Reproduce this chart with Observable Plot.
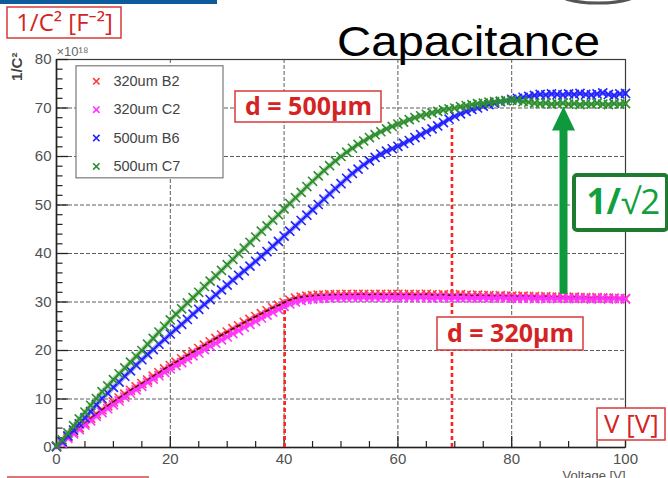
<!DOCTYPE html>
<html><head><meta charset="utf-8">
<script src="https://cdn.jsdelivr.net/npm/d3@7"></script>
<script src="https://cdn.jsdelivr.net/npm/@observablehq/plot@0.6"></script>
<style>body{margin:0;background:#fff;overflow:hidden}svg{display:block}</style>
</head><body><div id="chart"></div>
<script>
// ---- data ----
const voltage = [0,1,2,3,4,5,6,7,8,9,10,11,12,13,14,15,16,17,18,19,20,21,22,23,24,25,26,27,28,29,30,31,32,33,34,35,36,37,38,39,40,41,42,43,44,45,46,47,48,49,50,51,52,53,54,55,56,57,58,59,60,61,62,63,64,65,66,67,68,69,70,71,72,73,74,75,76,77,78,79,80,81,82,83,84,85,86,87,88,89,90,91,92,93,94,95,96,97,98,99,100];
const b2_320um = [0.3,1.2,2.2,3.1,4.1,5.0,6.0,6.9,7.8,8.6,9.4,10.2,11.0,11.8,12.5,13.2,13.9,14.7,15.4,16.2,16.9,17.6,18.3,19.0,19.7,20.4,21.1,21.8,22.5,23.2,23.8,24.5,25.1,25.8,26.4,27.0,27.6,28.2,28.8,29.3,29.9,30.4,30.8,31.0,31.2,31.3,31.4,31.4,31.5,31.5,31.5,31.6,31.5,31.6,31.6,31.5,31.6,31.6,31.5,31.6,31.6,31.5,31.6,31.5,31.5,31.6,31.5,31.4,31.5,31.4,31.4,31.5,31.4,31.3,31.4,31.3,31.3,31.2,31.3,31.2,31.2,31.1,31.2,31.1,31.1,31.0,31.1,31.0,31.0,31.0,30.9,31.0,30.9,30.9,30.8,30.9,30.8,30.8,30.8,30.7,30.7];
const c2_320um = [0.1,0.9,1.9,2.8,3.7,4.6,5.5,6.4,7.2,8.0,8.8,9.6,10.4,11.2,11.9,12.6,13.4,14.1,14.8,15.5,16.2,16.9,17.5,18.2,18.9,19.5,20.2,20.9,21.5,22.2,22.8,23.5,24.1,24.8,25.4,26.0,26.7,27.3,27.9,28.5,29.1,29.6,30.0,30.3,30.5,30.6,30.7,30.8,30.8,30.9,30.9,30.9,31.0,30.9,31.0,30.9,31.0,30.9,31.0,30.9,30.9,31.0,30.9,30.9,31.0,30.9,30.8,30.9,30.9,30.8,30.9,30.8,30.9,30.8,30.8,30.9,30.8,30.8,30.9,30.8,30.8,30.7,30.8,30.8,30.7,30.8,30.7,30.8,30.7,30.8,30.7,30.7,30.8,30.7,30.6,30.7,30.8,30.6,30.7,30.7,30.6];
const b6_500um = [0.2,1.2,2.4,3.6,4.9,6.1,7.4,8.8,10.1,11.2,12.4,13.5,14.7,15.8,17.0,18.1,19.2,20.2,21.3,22.3,23.4,24.4,25.4,26.4,27.5,28.5,29.5,30.5,31.5,32.5,33.5,34.5,35.5,36.4,37.4,38.4,39.4,40.4,41.5,42.5,43.6,44.6,45.7,46.8,47.9,49.0,50.1,51.2,52.3,53.4,54.4,55.5,56.5,57.4,58.3,59.1,59.8,60.5,61.1,61.6,62.1,62.7,63.3,63.9,64.5,65.1,65.7,66.3,67.0,67.7,68.3,68.8,69.3,69.7,70.0,70.4,70.7,71.0,71.3,71.5,71.8,72.0,72.2,72.4,72.6,72.8,72.7,72.9,72.8,72.7,72.9,72.8,73.0,72.8,72.7,72.9,73.1,72.8,72.6,72.9,73.0];
const c7_500um = [0.3,1.6,3.0,4.5,5.9,7.3,8.7,10.1,11.5,12.7,14.0,15.2,16.4,17.6,18.8,20.0,21.3,22.5,23.8,25.0,26.3,27.5,28.6,29.8,30.9,32.0,33.2,34.3,35.4,36.5,37.7,38.8,40.0,41.1,42.3,43.4,44.6,45.7,46.9,48.0,49.2,50.3,51.5,52.6,53.8,54.9,56.0,57.1,58.1,59.1,60.0,60.9,61.7,62.5,63.2,63.9,64.5,65.1,65.7,66.2,66.7,67.1,67.6,68.0,68.4,68.7,69.0,69.3,69.6,69.8,70.0,70.3,70.5,70.7,70.9,71.0,71.2,71.3,71.4,71.5,71.6,71.5,71.3,71.2,71.0,70.9,71.0,70.8,70.9,71.0,70.8,70.9,70.7,70.9,70.8,71.0,70.8,70.7,70.9,70.8,70.9];

const seriesNames = ["320um B2", "320um C2", "500um B6", "500um C7"];
const seriesValues = [b2_320um, c2_320um, b6_500um, c7_500um];
const seriesColors = ["#ff3c3c", "#ff33ff", "#2222ff", "#2e8e2e"];

const xTicks = [0, 20, 40, 60, 80, 100];
const yTicks = [0, 10, 20, 30, 40, 50, 60, 70, 80];
const xGrid = [20, 40, 60, 80];
const yGrid = [10, 20, 30, 40, 50, 60, 70];
const xMinor = [5,10,15,25,30,35,45,50,55,65,70,75,85,90,95];
const yMinor = [2,4,6,8,12,14,16,18,22,24,26,28,32,34,36,38,42,44,46,48,52,54,56,58,62,64,66,68,72,74,76,78];

// depletion voltages marked with red dashed lines
const depletion = [{V: 40.1, top: 30.0}, {V: 69.5, top: 66.5}];

// ---- layout helpers (pixels per data unit) ----
const W = 668, H = 478, ML = 56, MR = 43, MT = 59, MB = 31;
const KX = (W - ML - MR) / 100, KY = (H - MT - MB) / 80;

const rows = seriesValues.flatMap((vals, s) => vals.map((v, i) => ({V: voltage[i], C: v, series: seriesNames[s]})));
const of = (name) => rows.filter(d => d.series === name);

const redText = "#d42323";
const notes = [
  {text: "1/C² [F⁻²]", x: (64 - ML) / KX, y: (H - MB - 22.5) / KY, w: 114, h: 31, size: 24, weight: "normal"},
  {text: "d = 500μm", x: (308 - ML) / KX, y: (H - MB - 106.5) / KY, w: 146, h: 31, size: 25, weight: "bold"},
  {text: "d = 320μm", x: (510 - ML) / KX, y: (H - MB - 333.5) / KY, w: 146, h: 33, size: 25, weight: "bold"},
  {text: "V [V]", x: (631 - ML) / KX, y: (H - MB - 424) / KY, w: 68, h: 32, size: 26, weight: "normal"}
];
const green = {x: (620.5 - ML) / KX, y: (H - MB - 202.5) / KY, w: 93, h: 55};
const arrow = {V: (563 - ML) / KX, from: 31.6, to: (H - MB - 118.5) / KY};
const triShape = {draw(ctx, size) { const r = Math.sqrt(size / Math.PI); ctx.moveTo(0, -r); ctx.lineTo(0.92 * r, 0.92 * r); ctx.lineTo(-0.92 * r, 0.92 * r); ctx.closePath(); }};

const legendY = (i) => 75.5 - i * 5.85;
const gridStyle = {stroke: "#4a4a4a", strokeWidth: 1, strokeDasharray: "4,2", strokeOpacity: 0.9};

const seriesMarks = seriesNames.flatMap((name, s) => {
  const m = [
    Plot.line(of(name), {x: "V", y: "C", stroke: seriesColors[s], strokeWidth: 5, strokeOpacity: 0.35}),
    Plot.line(of(name), {x: "V", y: "C", stroke: seriesColors[s], strokeWidth: 2.2, strokeOpacity: 0.8}),
    Plot.dot(of(name), {x: "V", y: "C", symbol: "times", r: 4.2, stroke: seriesColors[s], strokeWidth: 1.6})
  ];
  if (s === 0) m.push(Plot.line(of(name), {x: "V", y: "C", stroke: "#4a0c0c", strokeWidth: 1.6, curve: "monotone-x"}));
  return m;
});

const plot = Plot.plot({
  width: W, height: H,
  marginLeft: ML, marginRight: MR, marginTop: MT, marginBottom: MB,
  x: {domain: [0, 100]},
  y: {domain: [0, 80]},
  style: {fontFamily: "'Liberation Sans', Arial, sans-serif", background: "white"},
  marks: [
    Plot.gridY(yGrid, gridStyle),
    Plot.gridX(xGrid, gridStyle),
    Plot.frame({stroke: "#3a3a3a", strokeWidth: 1.2}),
    Plot.ruleX([0], {stroke: "#222", strokeWidth: 1.6}),
    Plot.ruleY([0], {stroke: "#222", strokeWidth: 1.6}),
    // inward tick marks
    Plot.ruleY(yTicks, {y: d => d, x1: () => 0, x2: () => 12 / KX, stroke: "#222", strokeWidth: 1.3}),
    Plot.ruleY(yMinor, {y: d => d, x1: () => 0, x2: () => 6.5 / KX, stroke: "#222", strokeWidth: 1.2}),
    Plot.ruleX(xTicks, {x: d => d, y1: () => 0, y2: () => 11 / KY, stroke: "#222", strokeWidth: 1.3}),
    Plot.ruleX(xMinor, {x: d => d, y1: () => 0, y2: () => 6 / KY, stroke: "#222", strokeWidth: 1.2}),
    Plot.axisY(yTicks, {tickSize: 0, tickPadding: 5, fill: "#505050", fontSize: 15, label: null}),
    Plot.axisX(xTicks, {tickSize: 0, tickPadding: 6, fill: "#505050", fontSize: 15, label: null}),
    // depletion markers
    Plot.ruleX(depletion, {x: "V", y1: () => 0, y2: "top", stroke: "#ff2424", strokeWidth: 2.6, strokeDasharray: "4,3"}),
    // data
    ...seriesMarks,
    // legend
    Plot.rect([0], {x1: () => 20 / KX, x2: () => 167 / KX, y1: () => 55.5, y2: () => 78.6, fill: "white", stroke: "#7a7a7a", strokeWidth: 1.2}),
    Plot.dot(seriesNames, {x: () => 7.0, y: (d, i) => legendY(i), symbol: "times", r: 3, stroke: (d, i) => seriesColors[i], strokeWidth: 1.6}),
    Plot.text(seriesNames, {x: () => 10.0, y: (d, i) => legendY(i), text: d => d, textAnchor: "start", fill: "#444", fontSize: 14.5}),
    // axis texts
    Plot.text(["×10¹⁸"], {x: () => 0, y: () => 80, dy: -4, text: d => d, textAnchor: "start", lineAnchor: "bottom", fill: "#666", fontSize: 13}),
    Plot.text(["1/C²"], {x: () => -39 / KX, y: () => 78.5, text: d => d, rotate: -90, fill: "#444", fontSize: 15, fontWeight: "bold"}),
    Plot.text(["Voltage [V]"], {x: () => 100, y: () => -32 / KY, text: d => d, textAnchor: "end", lineAnchor: "bottom", fill: "#555", fontSize: 13}),
    // title
    Plot.text(["Capacitance"], {x: () => (468 - ML) / KX, y: () => (H - MB - 55) / KY, text: d => d, lineAnchor: "bottom", fontSize: 43, fill: "#000", className: "captitle"}),
    // red annotation boxes
    ...notes.flatMap(n => [
      Plot.rect([n], {x1: d => d.x - d.w / 2 / KX, x2: d => d.x + d.w / 2 / KX, y1: d => d.y - d.h / 2 / KY, y2: d => d.y + d.h / 2 / KY, fill: "white", stroke: "#d63a3a", strokeWidth: 1.5}),
      Plot.text([n], {x: "x", y: "y", text: "text", fill: redText, fontSize: n.size, fontWeight: n.weight, fontFamily: "'Open Sans', 'Noto Sans', sans-serif", lineAnchor: "middle"})
    ]),
    // green arrow
    Plot.ruleX([arrow], {x: "V", y1: "from", y2: "to", stroke: "#0e9a3c", strokeWidth: 8}),
    Plot.dot([arrow], {x: "V", y: "to", symbol: triShape, r: 12.5, fill: "#0e9a3c", stroke: "none"}),
    // 1/sqrt2 box
    Plot.rect([green], {x1: d => d.x - d.w / 2 / KX, x2: d => d.x + d.w / 2 / KX, y1: d => d.y - d.h / 2 / KY, y2: d => d.y + d.h / 2 / KY, fill: "white", stroke: "#1f7b30", strokeWidth: 4, rx: 3}),
    Plot.text([green], {x: "x", y: "y", text: () => "1/", textAnchor: "end", fill: "#10a040", fontSize: 35, fontWeight: "bold", fontFamily: "'Open Sans', sans-serif", lineAnchor: "middle"}),
    Plot.text([green], {x: "x", y: "y", text: () => "√2", textAnchor: "start", fill: "#10a040", fontSize: 35, fontFamily: "'Open Sans', 'DejaVu Sans', sans-serif", lineAnchor: "middle"})
  ]
});

document.getElementById("chart").appendChild(plot);

// slide decorations / title stretching
const svg = d3.select(plot);
svg.selectAll("g.captitle text").attr("textLength", 263).attr("lengthAdjust", "spacingAndGlyphs");
svg.append("rect").attr("x", 0).attr("y", 0).attr("width", 217).attr("height", 4).attr("fill", "#0d5a9c");
svg.append("line").attr("x1", 7).attr("x2", 149).attr("y1", 477).attr("y2", 477).attr("stroke", "#d04848").attr("stroke-width", 1.5);
svg.append("ellipse").attr("cx", 598).attr("cy", -10).attr("rx", 44).attr("ry", 13).attr("fill", "none").attr("stroke", "#555").attr("stroke-width", 3);
</script>
</body></html>
